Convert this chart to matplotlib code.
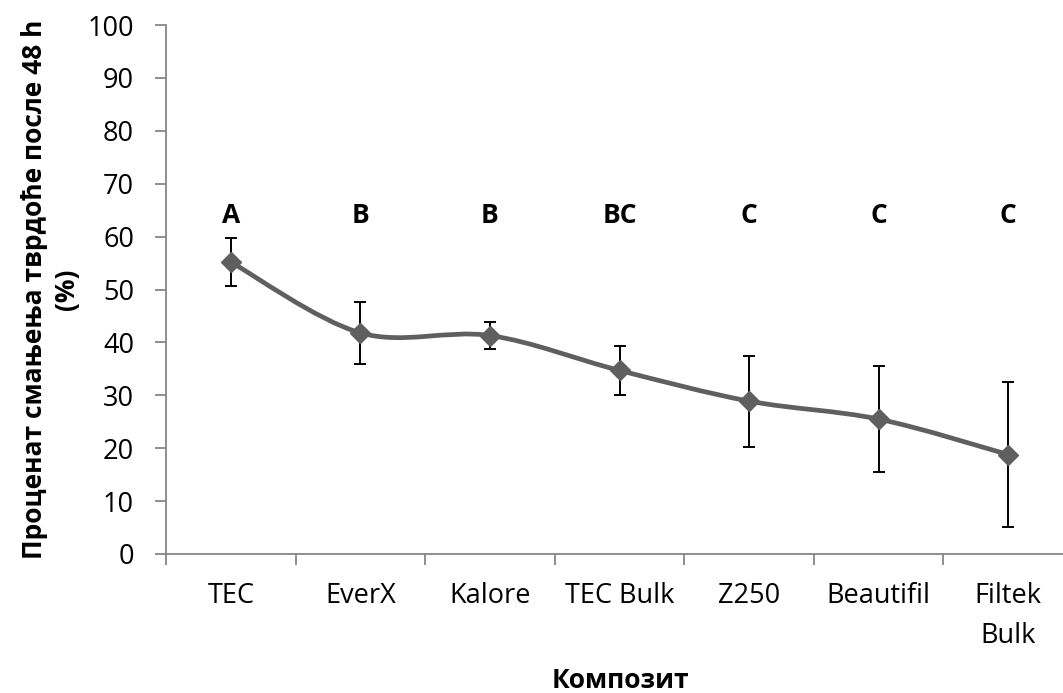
import matplotlib.pyplot as plt
import numpy as np
from matplotlib.path import Path
from matplotlib.patches import PathPatch

plt.rcParams['font.family'] = ['Open Sans', 'DejaVu Sans']

# Подаци очитани са слике
composites = ["TEC", "EverX", "Kalore", "TEC Bulk", "Z250", "Beautifil", "Filtek\nBulk"]
reduction = [55.2, 41.8, 41.3, 34.7, 28.9, 25.5, 18.8]
errors = [4.5, 5.8, 2.6, 4.7, 8.6, 10.0, 13.7]
groups = ["A", "B", "B", "BC", "C", "C", "C"]
group_y = 64

line_color = "#5f5f5f"
axis_color = "#868686"


def smooth_path(xs, ys):
    """Глатка линија као у Excel-у (Catmull-Rom преко Безијеових кривих)."""
    pts = np.column_stack([xs, ys]).astype(float)
    ext = np.vstack([pts[0], pts, pts[-1]])
    verts = [pts[0]]
    codes = [Path.MOVETO]
    for i in range(len(pts) - 1):
        p0, p1, p2, p3 = ext[i], ext[i + 1], ext[i + 2], ext[i + 3]
        c1 = p1 + (p2 - p0) / 6
        c2 = p2 - (p3 - p1) / 6
        verts += [c1, c2, p2]
        codes += [Path.CURVE4] * 3
    return Path(verts, codes)


fig = plt.figure(figsize=(10.63, 6.93), dpi=100)
ax = fig.add_axes([166 / 1063, 139 / 693, 907 / 1063, 529 / 693])

x = np.arange(len(composites))
ax.add_patch(PathPatch(smooth_path(x, reduction), fill=False,
                       edgecolor=line_color, lw=3.4, zorder=2))
ax.errorbar(x, reduction, yerr=errors, fmt="none", ecolor="black",
            elinewidth=1.4, capsize=4.5, capthick=1.4, zorder=3)
ax.plot(x, reduction, linestyle="none", marker="D", markersize=10,
        color=line_color, zorder=4)

for xi, g in zip(x, groups):
    ax.text(xi, group_y, g, ha="center", va="center",
            fontsize=19, fontweight="bold")

ax.set_xlim(-0.5, len(composites) - 0.5)
ax.set_ylim(0, 100)
ax.set_yticks(range(0, 101, 10))
ax.set_xticks(x)
ax.set_xticklabels(composites, fontsize=19.5, linespacing=1.6)
ax.tick_params(axis="x", length=0, pad=20)
ax.set_xticks(np.arange(-0.5, len(composites), 1), minor=True)
ax.tick_params(axis="x", which="minor", length=8, color=axis_color, width=1.3)
ax.tick_params(axis="y", length=8, color=axis_color, width=1.3,
               labelsize=19.5, pad=15)

for side in ["top", "right"]:
    ax.spines[side].set_visible(False)
for side in ["left", "bottom"]:
    ax.spines[side].set_color(axis_color)
    ax.spines[side].set_linewidth(1.3)

ax.set_ylabel("Проценат смањења тврдоће после 48 h\n(%)",
              fontsize=19, fontweight="bold", linespacing=1.25)
ax.yaxis.set_label_coords(-(166 - 80) / 907, 0.5)
ax.set_xlabel("Композит", fontsize=19, fontweight="bold")
ax.xaxis.set_label_coords((620 - 166) / 907, -(667 - 554) / 529)

fig.savefig("out.png", dpi=100)
